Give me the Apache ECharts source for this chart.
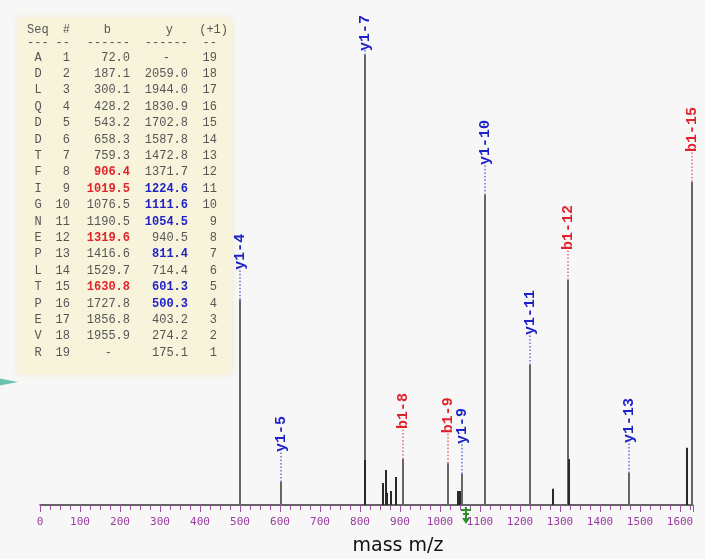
<!DOCTYPE html>
<html>
<head>
<meta charset="utf-8">
<title>Fragment ion spectrum</title>
<script src="https://cdn.jsdelivr.net/npm/echarts@6/dist/echarts.min.js"></script>
<style>
  html, body { margin: 0; padding: 0; background: #f7f7f7; }
  #chart { width: 705px; height: 559px; }
</style>
</head>
<body>
<div id="chart"></div>
<script>
// Peptide sequence and theoretical fragment ion masses
const seqResidues = ['A','D','L','Q','D','D','T','F','I','G','N','E','P','L','T','P','E','V','R'];
const bIons = [72.0, 187.1, 300.1, 428.2, 543.2, 658.3, 759.3, 906.4, 1019.5, 1076.5,
               1190.5, 1319.6, 1416.6, 1529.7, 1630.8, 1727.8, 1856.8, 1955.9, null];
const yIons = [null, 2059.0, 1944.0, 1830.9, 1702.8, 1587.8, 1472.8, 1371.7, 1224.6, 1111.6,
               1054.5, 940.5, 811.4, 714.4, 601.3, 500.3, 403.2, 274.2, 175.1];
// ion numbers found in the spectrum (b counted from N-term, y from C-term)
const matchedB = [8, 9, 12, 15];
const matchedY = [4, 5, 7, 9, 10, 11];

// Observed peaks (m/z, relative intensity %)
const peakMz = [500.3, 601.3, 811.4, 813.5, 858, 865, 868, 877.5, 889, 906.4, 1019.5,
                1046, 1050, 1054.5, 1111.6, 1224.6, 1283, 1319.6, 1322, 1472.8, 1617, 1630.8];
const peakIntensity = [45.6, 5.1, 100, 10, 4.9, 7.8, 2.7, 3.1, 6.2, 10.2, 9.3,
                       3.1, 3.1, 6.9, 68.9, 31.1, 3.6, 50, 10.2, 7.1, 12.7, 71.8];

// Annotated fragment peaks
const annLabels = ['y1-4', 'y1-5', 'y1-7', 'b1-8', 'b1-9', 'y1-9', 'y1-10', 'y1-11', 'b1-12', 'y1-13', 'b1-15'];
const annMz = [500.3, 601.3, 811.4, 906.4, 1019.5, 1054.5, 1111.6, 1224.6, 1319.6, 1472.8, 1630.8];
const annIntensity = [45.6, 5.1, 100, 10.2, 9.3, 6.9, 68.9, 31.1, 50, 7.1, 71.8];

// Precursor position
const precursorMz = [1065];

// x-axis ticks
const axisMin = 0, axisMax = 1632, axisStep = 100;

const BLUE = '#1e22c8';
const RED = '#e0232a';
const TABLE_TEXT = '#555555';
const MONO = '"Liberation Mono", "DejaVu Sans Mono", monospace';

function fmt(v) { return v == null ? '-' : v.toFixed(1); }

// ---- fragment table drawn as graphic text ----
const tableGraphics = [];
tableGraphics.push({
  type: 'rect', left: 18, top: 18, z: 0,
  shape: { width: 214, height: 356, r: 2 },
  style: {
    fill: '#f8f4dc',
    shadowBlur: 6, shadowColor: 'rgba(238,228,180,0.7)'
  }
});
// pointer wedge at the lower left of the table
tableGraphics.push({
  type: 'polygon', z: 1,
  shape: { points: [[0, 378.5], [18, 382], [0, 385.5]] },
  style: { fill: '#6cc4ae' }
});

function cell(text, x, y, align, color, bold) {
  tableGraphics.push({
    type: 'text', x: x, y: y, z: 2,
    style: {
      text: text, fill: color, align: align, verticalAlign: 'middle',
      font: (bold ? 'bold ' : '') + '12px ' + MONO
    }
  });
}

const colSeq = 38, colNum = 70, colB = 130, colY = 188, colP = 217;
cell('Seq', 27, 30, 'left', TABLE_TEXT, false);
cell('#', colNum, 30, 'right', TABLE_TEXT, false);
cell('b', 111, 30, 'right', TABLE_TEXT, false);
cell('y', 173, 30, 'right', TABLE_TEXT, false);
cell('(+1)', 228, 30, 'right', TABLE_TEXT, false);
cell('---', 27, 43, 'left', TABLE_TEXT, false);
cell('--', colNum, 43, 'right', TABLE_TEXT, false);
cell('------', colB, 43, 'right', TABLE_TEXT, false);
cell('------', colY, 43, 'right', TABLE_TEXT, false);
cell('--', colP, 43, 'right', TABLE_TEXT, false);

const n = seqResidues.length;
seqResidues.forEach(function (aa, i) {
  const y = 57.5 + 16.4 * i;
  const num = i + 1;
  const yNum = n - i;
  const bHit = matchedB.indexOf(num) >= 0;
  const yHit = matchedY.indexOf(yNum) >= 0;
  cell(aa, colSeq, y, 'center', TABLE_TEXT, false);
  cell(String(num), colNum, y, 'right', TABLE_TEXT, false);
  cell(fmt(bIons[i]), bIons[i] == null ? 112 : colB, y, 'right', bHit ? RED : TABLE_TEXT, bHit);
  cell(fmt(yIons[i]), yIons[i] == null ? 170 : colY, y, 'right', yHit ? BLUE : TABLE_TEXT, yHit);
  cell(String(yNum), colP, y, 'right', TABLE_TEXT, false);
});

// axis title
tableGraphics.push({
  type: 'text', x: 398, y: 546, z: 2,
  style: {
    text: 'mass m/z', fill: '#111', align: 'center', verticalAlign: 'middle',
    font: '19px "DejaVu Sans", sans-serif'
  }
});

const peakData = peakMz.map(function (m, i) { return [m, peakIntensity[i]]; });
const annData = annMz.map(function (m, i) { return [m, annIntensity[i], i]; });

const chart = echarts.init(document.getElementById('chart'), null, { renderer: 'canvas' });

chart.setOption({
  backgroundColor: '#f7f7f7',
  animation: false,
  grid: { left: 40, right: 12.2, top: 55, bottom: 54, containLabel: false },
  xAxis: {
    type: 'value',
    min: axisMin, max: axisMax, interval: axisStep,
    splitLine: { show: false },
    axisLine: { show: true, onZero: false, lineStyle: { color: '#333', width: 1.5 } },
    axisTick: { show: true, length: 7, lineStyle: { color: '#a050a8', width: 1 } },
    minorTick: { show: true, splitNumber: 4, length: 5, lineStyle: { color: '#a050a8', width: 1 } },
    axisLabel: {
      showMaxLabel: false,
      color: '#9a3ca0', fontSize: 11, margin: 12,
      fontFamily: '"DejaVu Sans Mono", monospace',
      formatter: function (v) { return String(Math.round(v)); }
    }
  },
  yAxis: {
    type: 'value', min: 0, max: 100, show: false,
    splitLine: { show: false }
  },
  graphic: tableGraphics,
  series: [
    {
      // peak sticks
      type: 'custom',
      clip: false,
      z: 3,
      data: peakData,
      encode: { x: 0, y: 1 },
      renderItem: function (params, api) {
        const mz = api.value(0), inten = api.value(1);
        const base = api.coord([mz, 0]);
        const top = api.coord([mz, inten]);
        const annotated = annMz.indexOf(mz) >= 0;
        const x = Math.round(base[0]);
        return {
          type: 'line',
          shape: { x1: x, y1: base[1], x2: x, y2: top[1] },
          style: { stroke: annotated ? '#666' : '#2a2a2a', lineWidth: 2 }
        };
      }
    },
    {
      // fragment labels with dotted leaders
      type: 'custom',
      clip: false,
      z: 4,
      data: annData,
      encode: { x: 0, y: 1 },
      renderItem: function (params, api) {
        const mz = api.value(0), inten = api.value(1);
        const label = annLabels[api.value(2)];
        const color = label.charAt(0) === 'b' ? RED : BLUE;
        const top = api.coord([mz, inten]);
        const x = Math.round(top[0]);
        const fontSize = 15;
        const textLen = label.length * fontSize * 0.6;
        let labelBottom = top[1] - 30;
        if (labelBottom - textLen < 15) {
          labelBottom = Math.min(top[1] - 3, 15 + textLen);
        }
        return {
          type: 'group',
          children: [
            {
              type: 'line',
              shape: { x1: x, y1: top[1], x2: x, y2: labelBottom - 2 },
              style: { stroke: color, lineWidth: 1, lineDash: [1.5, 2] }
            },
            {
              type: 'text',
              x: x, y: labelBottom, rotation: Math.PI / 2,
              style: {
                text: label, fill: color,
                align: 'left', verticalAlign: 'middle',
                font: 'bold ' + fontSize + 'px ' + MONO
              }
            }
          ]
        };
      }
    },
    {
      // precursor marker under the axis
      type: 'custom',
      clip: false,
      z: 5,
      data: precursorMz.map(function (m) { return [m, 0]; }),
      encode: { x: 0, y: 1 },
      renderItem: function (params, api) {
        const p = api.coord([api.value(0), 0]);
        const x = Math.round(p[0]), y = p[1];
        const green = '#2f8f2f';
        return {
          type: 'group',
          children: [
            { type: 'line', shape: { x1: x, y1: y + 2, x2: x, y2: y + 15 }, style: { stroke: green, lineWidth: 2 } },
            { type: 'line', shape: { x1: x - 5, y1: y + 5, x2: x + 5, y2: y + 5 }, style: { stroke: green, lineWidth: 2 } },
            { type: 'line', shape: { x1: x - 3, y1: y + 9, x2: x + 3, y2: y + 9 }, style: { stroke: green, lineWidth: 2 } },
            { type: 'polygon', shape: { points: [[x - 4, y + 13], [x + 4, y + 13], [x, y + 19]] }, style: { fill: green } }
          ]
        };
      }
    }
  ]
});
</script>
</body>
</html>
